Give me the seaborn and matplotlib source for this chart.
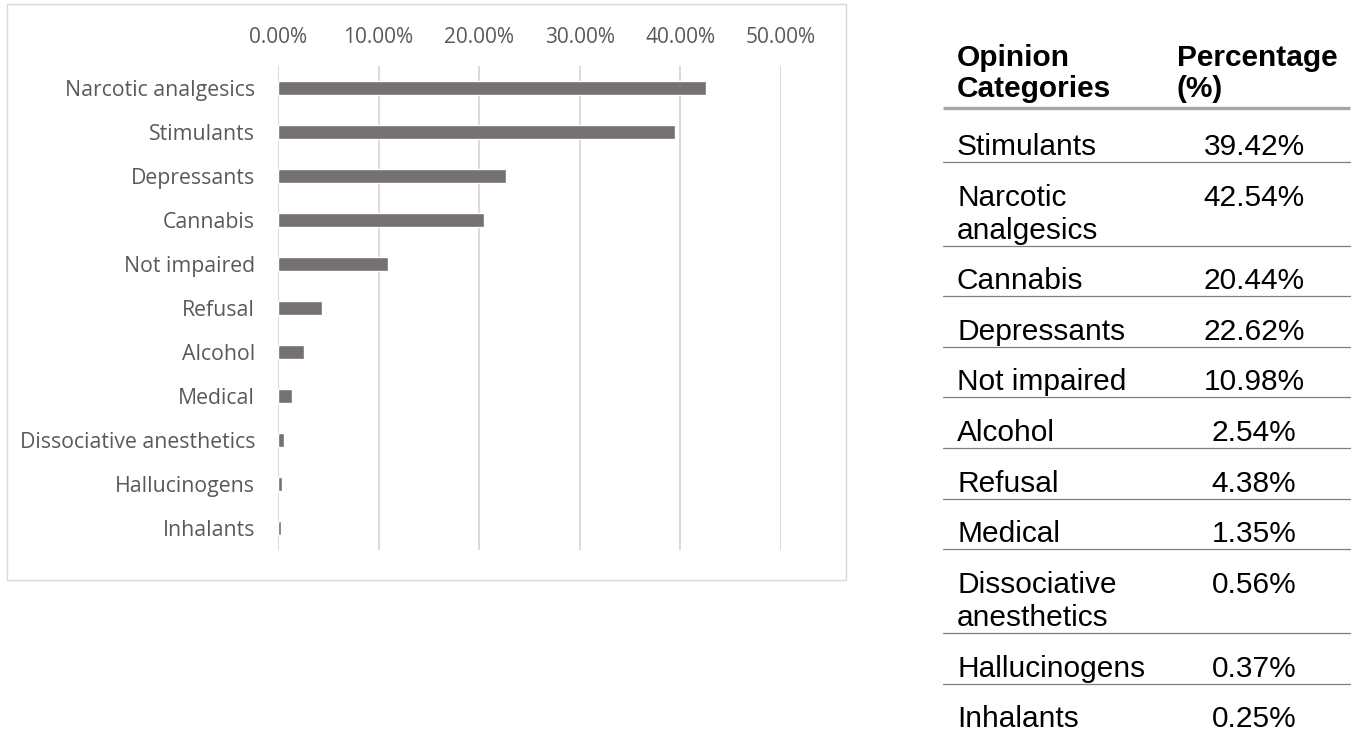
import matplotlib
matplotlib.use("Agg")
import matplotlib.pyplot as plt
import seaborn as sns
import pandas as pd
from matplotlib.patches import Rectangle

# ---------------- data ----------------
categories = ["Stimulants", "Narcotic analgesics", "Cannabis", "Depressants",
              "Not impaired", "Alcohol", "Refusal", "Medical",
              "Dissociative anesthetics", "Hallucinogens", "Inhalants"]
percentages = [39.42, 42.54, 20.44, 22.62, 10.98, 2.54, 4.38, 1.35, 0.56, 0.37, 0.25]
table_labels = ["Stimulants", "Narcotic\nanalgesics", "Cannabis", "Depressants",
                "Not impaired", "Alcohol", "Refusal", "Medical",
                "Dissociative\nanesthetics", "Hallucinogens", "Inhalants"]
x_ticks = [0, 10, 20, 30, 40, 50]
x_tick_labels = ["0.00%", "10.00%", "20.00%", "30.00%", "40.00%", "50.00%"]
header_left = ["Opinion", "Categories"]
header_right = ["Percentage", "(%)"]

# ---------------- style ----------------
sns.set_theme(style="white")
plt.rcParams['font.family'] = ['Open Sans', 'DejaVu Sans']

W, H = 1354, 732
fig = plt.figure(figsize=(W / 100, H / 100), dpi=100)
fig.patch.set_facecolor("white")

# overlay axes in pixel coordinates (for border + table)
ov = fig.add_axes([0, 0, 1, 1])
ov.set_xlim(0, W)
ov.set_ylim(H, 0)
ov.axis("off")
ov.patch.set_alpha(0)

# chart border
ov.add_patch(Rectangle((7, 4), 839, 576, fill=False, edgecolor="#d9d9d9", lw=1.0))

# ---------------- bar chart ----------------
ax = fig.add_axes([278 / W, 1 - 550 / H, (781 - 278) / W, (550 - 66) / H])
df = pd.DataFrame({"category": categories, "pct": percentages})
order = df.sort_values("pct", ascending=False)["category"].tolist()
sns.barplot(data=df, x="pct", y="category", order=order, color="#767171",
            saturation=1, width=0.34, ax=ax)
ax.set_xlim(0, 50)
ax.set_xticks(x_ticks)
ax.set_xticklabels(x_tick_labels)
ax.xaxis.tick_top()
ax.set_xlabel("")
ax.set_ylabel("")
ax.tick_params(axis="x", length=0, pad=13, labelsize=15, labelcolor="#595959")
ax.tick_params(axis="y", length=0, pad=16.5, labelsize=15.3, labelcolor="#595959")
for s in ax.spines.values():
    s.set_visible(False)
ax.grid(axis="x", color="#d9d9d9", lw=1.4)
ax.grid(axis="y", visible=False)
ax.set_axisbelow(True)

# ---------------- table ----------------
tfont = ["Liberation Sans", "DejaVu Sans"]
fs = 21.5
left_x = 957
val_cx = 1254
line_x0, line_x1 = 943, 1350
line_gap = 33

# header
for i, (a, b) in enumerate(zip(header_left, header_right)):
    y = 66 + i * 31
    ov.text(left_x, y, a, fontsize=fs, fontweight="bold", family=tfont,
            ha="left", va="baseline", color="black")
    ov.text(1177, y, b, fontsize=fs, fontweight="bold", family=tfont,
            ha="left", va="baseline", color="black")
ov.plot([line_x0, line_x1], [108, 108], color="#a6a6a6", lw=2.4, solid_capstyle="butt")

y_top = 111
for k, (lab, val) in enumerate(zip(table_labels, percentages)):
    lines = lab.split("\n")
    h = 50.6 if len(lines) == 1 else 84
    bottom = y_top + h
    base = bottom - 7 - (len(lines) - 1) * line_gap
    for j, ln in enumerate(lines):
        ov.text(left_x, base + j * line_gap, ln, fontsize=fs, family=tfont,
                ha="left", va="baseline", color="black")
    ov.text(val_cx, base, f"{val:.2f}%", fontsize=fs, family=tfont,
            ha="center", va="baseline", color="black")
    if k < len(table_labels) - 1:
        ov.plot([line_x0, line_x1], [bottom, bottom], color="#7f7f7f", lw=0.9)
    y_top = bottom

fig.savefig("out.png", dpi=100, facecolor="white")
